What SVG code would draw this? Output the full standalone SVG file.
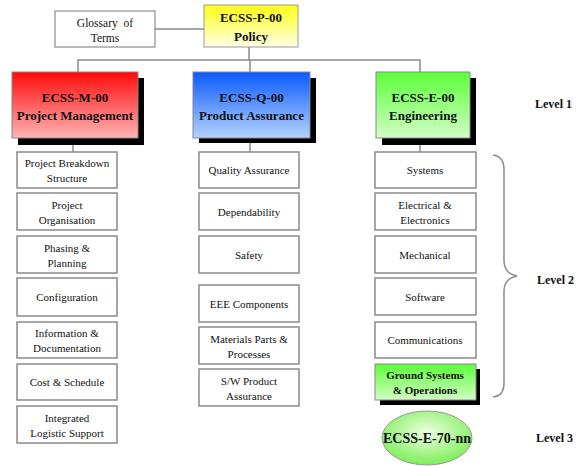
<svg xmlns="http://www.w3.org/2000/svg" width="586" height="466" viewBox="0 0 586 466" font-family="'Liberation Serif', 'Times New Roman', serif">
<defs>
<linearGradient id="gRed" x1="0" y1="0" x2="0" y2="1"><stop offset="0" stop-color="#ff0a0a"/><stop offset="1" stop-color="#ffb4b4"/></linearGradient>
<linearGradient id="gBlue" x1="0" y1="0" x2="0" y2="1"><stop offset="0" stop-color="#0a5aff"/><stop offset="1" stop-color="#b4d2ff"/></linearGradient>
<linearGradient id="gGreen" x1="0" y1="0" x2="0" y2="1"><stop offset="0" stop-color="#5cff3a"/><stop offset="1" stop-color="#d2ffc4"/></linearGradient>
<linearGradient id="gYellow" x1="0" y1="0" x2="0" y2="1"><stop offset="0" stop-color="#ffff14"/><stop offset="1" stop-color="#ffffe6"/></linearGradient>
<radialGradient id="gEll" cx="0.5" cy="0.4" r="0.6"><stop offset="0" stop-color="#eeffe4"/><stop offset="1" stop-color="#7cee56"/></radialGradient>
</defs>
<style>
text{text-anchor:middle;fill:#111}
.sub{fill:#fff;stroke:#8a8a8a;stroke-width:1.5}
.st{font-size:11px}
.mt{font-size:13px;font-weight:bold}
.lv{font-size:12px;font-weight:bold;text-anchor:start}
.main{stroke:#888;stroke-width:1}
.sh{fill:#000}
.conn{stroke:#8a8a8a;stroke-width:1.5;fill:none}
</style>
<rect width="586" height="466" fill="#fff"/>
<g id="connectors">
<line class="conn" x1="155" y1="29" x2="204" y2="29"/>
<line class="conn" x1="249" y1="47" x2="249" y2="60"/>
<polyline class="conn" points="78,72 78,60 420,60 420,72"/>
<line class="conn" x1="250" y1="60" x2="250" y2="72"/>
<line class="conn" x1="73" y1="145" x2="73" y2="152"/>
<line class="conn" x1="250" y1="143" x2="250" y2="152"/>
<line class="conn" x1="420" y1="145" x2="420" y2="152"/>
<path class="conn" d="M493,155 Q504,156 504,170 L504,262 Q505,274 517,276 Q505,278 504,290 L504,383 Q504,396 493,397"/>
</g>
<g id="glossary">
<rect x="55" y="11" width="100" height="36" fill="#fff" stroke="#777" stroke-width="1"/>
<text class="st" x="105" y="27" style="font-size:11.5px" word-spacing="3">Glossary of</text>
<text class="st" x="105" y="42" style="font-size:11.5px">Terms</text>
</g>
<g id="policy">
<rect x="204" y="5" width="94" height="42" fill="url(#gYellow)" stroke="#999"/>
<text class="mt" x="251" y="22">ECSS-P-00</text>
<text class="mt" x="251" y="41">Policy</text>
</g>
<g id="m00">
<rect class="sh" x="18" y="78" width="126" height="67"/>
<rect class="main" x="12" y="72" width="126" height="66" fill="url(#gRed)"/>
<text class="mt" x="75" y="102">ECSS-M-00</text>
<text class="mt" x="75" y="120">Project Management</text>
</g>
<g id="q00">
<rect class="sh" x="199" y="78" width="117" height="65"/>
<rect class="main" x="193" y="72" width="117" height="66" fill="url(#gBlue)"/>
<text class="mt" x="251.5" y="102">ECSS-Q-00</text>
<text class="mt" x="251.5" y="120">Product Assurance</text>
</g>
<g id="e00">
<rect class="sh" x="382" y="78" width="94" height="67"/>
<rect class="main" x="376" y="72" width="94" height="66" fill="url(#gGreen)"/>
<text class="mt" x="423" y="102">ECSS-E-00</text>
<text class="mt" x="423" y="120">Engineering</text>
</g>
<g id="m-pbs"><rect class="sub" x="17" y="152" width="100" height="36"/><text class="st" x="67" y="167">Project Breakdown</text><text class="st" x="67" y="182">Structure</text></g>
<g id="m-org"><rect class="sub" x="17" y="193" width="100" height="37"/><text class="st" x="67" y="209">Project</text><text class="st" x="67" y="224">Organisation</text></g>
<g id="m-phase"><rect class="sub" x="17" y="236" width="100" height="37"/><text class="st" x="67" y="252">Phasing &amp;</text><text class="st" x="67" y="267">Planning</text></g>
<g id="m-conf"><rect class="sub" x="17" y="278" width="100" height="38"/><text class="st" x="67" y="301">Configuration</text></g>
<g id="m-info"><rect class="sub" x="17" y="322" width="100" height="36"/><text class="st" x="67" y="337">Information &amp;</text><text class="st" x="67" y="352">Documentation</text></g>
<g id="m-cost"><rect class="sub" x="17" y="364" width="100" height="36"/><text class="st" x="67" y="386">Cost &amp; Schedule</text></g>
<g id="m-ils"><rect class="sub" x="17" y="406" width="100" height="37"/><text class="st" x="67" y="422">Integrated</text><text class="st" x="67" y="437">Logistic Support</text></g>
<g id="q-qa"><rect class="sub" x="199" y="152" width="100" height="36"/><text class="st" x="249" y="174">Quality Assurance</text></g>
<g id="q-dep"><rect class="sub" x="199" y="193" width="100" height="37"/><text class="st" x="249" y="216">Dependability</text></g>
<g id="q-safe"><rect class="sub" x="199" y="236" width="100" height="37"/><text class="st" x="249" y="259">Safety</text></g>
<g id="q-eee"><rect class="sub" x="199" y="285" width="100" height="37"/><text class="st" x="249" y="308">EEE Components</text></g>
<g id="q-mpp"><rect class="sub" x="199" y="327" width="100" height="37"/><text class="st" x="249" y="343">Materials Parts &amp;</text><text class="st" x="249" y="358">Processes</text></g>
<g id="q-sw"><rect class="sub" x="199" y="369" width="100" height="37"/><text class="st" x="249" y="385">S/W Product</text><text class="st" x="249" y="400">Assurance</text></g>
<g id="e-sys"><rect class="sub" x="375" y="152" width="101" height="36"/><text class="st" x="425" y="174">Systems</text></g>
<g id="e-elec"><rect class="sub" x="375" y="193" width="101" height="37"/><text class="st" x="425" y="209">Electrical &amp;</text><text class="st" x="425" y="224">Electronics</text></g>
<g id="e-mech"><rect class="sub" x="375" y="236" width="101" height="37"/><text class="st" x="425" y="259">Mechanical</text></g>
<g id="e-soft"><rect class="sub" x="375" y="278" width="101" height="37"/><text class="st" x="425" y="301">Software</text></g>
<g id="e-comm"><rect class="sub" x="375" y="322" width="101" height="36"/><text class="st" x="425" y="344">Communications</text></g>
<g id="e-ground">
<rect class="sh" x="380" y="369" width="100" height="36"/>
<rect class="main" x="375" y="364" width="101" height="36" fill="url(#gGreen)"/>
<text class="st" x="425" y="379" font-weight="bold">Ground Systems</text>
<text class="st" x="425" y="394" font-weight="bold">&amp; Operations</text>
</g>
<g id="e70">
<ellipse cx="427" cy="438" rx="45" ry="27" fill="url(#gEll)" stroke="#999"/>
<text class="mt" x="427" y="443" style="font-size:14px">ECSS-E-70-nn</text>
</g>
<g id="labels">
<text class="lv" x="535" y="108">Level 1</text>
<text class="lv" x="537" y="284">Level 2</text>
<text class="lv" x="536" y="442">Level 3</text>
</g>
</svg>
